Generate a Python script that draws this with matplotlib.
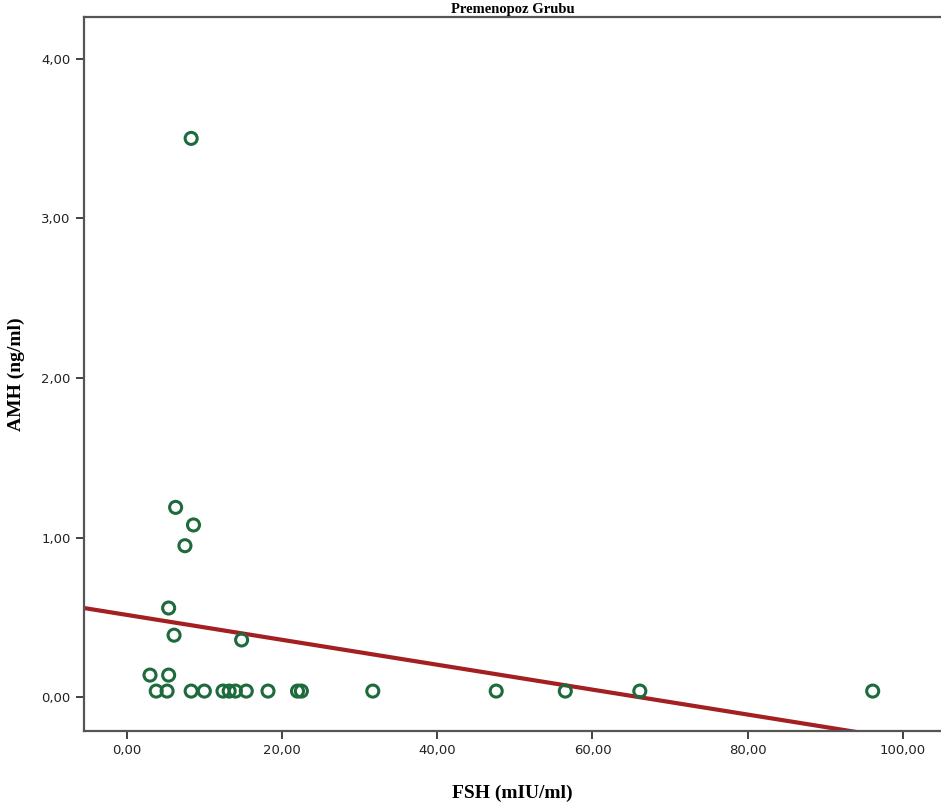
import numpy as np
import matplotlib
matplotlib.use("Agg")
import matplotlib.pyplot as plt
from matplotlib.ticker import FuncFormatter

# FSH (mIU/ml) vs AMH (ng/ml), premenopausal group
fsh = [8.3, 6.3, 8.6, 7.5, 5.4, 6.1, 14.8, 3.0, 5.4,
       3.8, 5.2, 8.3, 10.0, 12.4, 13.2, 14.0, 15.4, 18.2, 22.0, 22.5,
       31.7, 47.6, 56.5, 66.1, 96.1]
amh = [3.50, 1.19, 1.08, 0.95, 0.56, 0.39, 0.36, 0.14, 0.14,
       0.04, 0.04, 0.04, 0.04, 0.04, 0.04, 0.04, 0.04, 0.04, 0.04, 0.04,
       0.04, 0.04, 0.04, 0.04, 0.04]

# linear fit line as shown in the chart
fit_intercept = 0.517
fit_slope = -0.0078

x_ticks = [0, 20, 40, 60, 80, 100]
y_ticks = [0, 1, 2, 3, 4]


def comma_fmt(v, pos):
    return f"{v:.2f}".replace(".", ",")


fig = plt.figure(figsize=(9.41, 8.09), dpi=100)
ax = fig.add_axes([0.0893, 0.0964, 0.9107, 0.8826])

ax.scatter(fsh, amh, s=75, facecolors="none", edgecolors="#1d6b3c",
           linewidths=2.2, zorder=3)

xl = np.array([-5.5, 105])
ax.plot(xl, fit_intercept + fit_slope * xl, color="#a31f22", lw=3, zorder=2)

ax.set_xlim(-5.5, 104.9)
ax.set_ylim(-0.21, 4.26)
ax.set_xticks(x_ticks)
ax.set_yticks(y_ticks)
ax.xaxis.set_major_formatter(FuncFormatter(comma_fmt))
ax.yaxis.set_major_formatter(FuncFormatter(comma_fmt))
ax.tick_params(direction="out", length=6, width=1.3, color="#333333",
               labelsize=9.5, labelcolor="#222222")

for side in ["left", "bottom", "top"]:
    ax.spines[side].set_color("#555555")
    ax.spines[side].set_linewidth(1.6)
ax.spines["right"].set_visible(False)

ax.set_xlabel("FSH (mIU/ml)", family="Liberation Serif", weight="bold",
              fontsize=14, labelpad=20)
ax.set_ylabel("AMH (ng/ml)", family="Liberation Serif", weight="bold",
              fontsize=14, labelpad=12)
ax.set_title("Premenopoz Grubu", family="Liberation Serif", weight="bold",
             fontsize=10.5, pad=3)

fig.savefig("out.png", dpi=100)
